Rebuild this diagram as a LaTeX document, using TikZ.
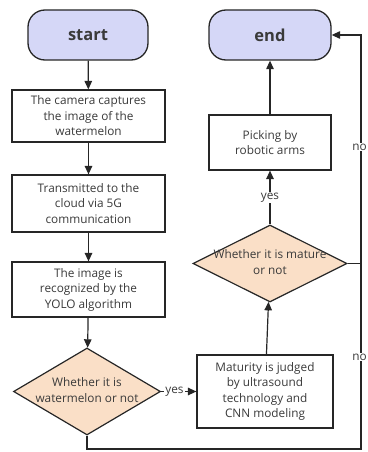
\documentclass[tikz,border=0pt]{standalone}
\usepackage{fontspec}
\setmainfont{Open Sans}
\usetikzlibrary{shapes.geometric,arrows.meta}
\definecolor{lav}{HTML}{D5D7F7}
\definecolor{peach}{HTML}{FADFC7}
\definecolor{ink}{HTML}{262626}
\definecolor{txt}{HTML}{3A3A3A}
\begin{document}
\begin{tikzpicture}[x=1pt,y=-1pt,
  every node/.style={font=\fontsize{11.8}{15.5}\selectfont, text=txt},
  term/.style={draw=ink, line width=1.3pt, fill=lav, rounded corners=17pt, minimum width=120pt, minimum height=50pt, font=\fontsize{16.5}{19}\selectfont\bfseries},
  box/.style={draw=ink, line width=1.2pt, fill=white, align=center, inner sep=2pt},
  dia/.style={draw=ink, line width=1.2pt, fill=peach, diamond, inner sep=0pt},
  conn/.style={draw=ink, line width=1.2pt},
  arr/.style={conn, -{Triangle[length=8.5pt,width=7.5pt]}},
  lbl/.style={fill=white, inner sep=1pt}
]
\useasboundingbox (0,0) rectangle (367,452);
\node[term] (start) at (88,35) {start};
\node[term, minimum width=122pt] (end) at (270,35) {end};
\node[box, minimum width=153pt, minimum height=52pt] (b1) at (88.5,116) {The camera captures\\the image of the\\watermelon};
\node[box, minimum width=153pt, minimum height=57pt] (b2) at (88.5,203.5) {Transmitted to the\\cloud via 5G\\communication};
\node[box, minimum width=153pt, minimum height=55pt] (b3) at (88.5,289.5) {The image is\\recognized by the\\YOLO algorithm};
\node[dia, minimum width=147pt, minimum height=87pt] (d1) at (87,391.5) {};
\node at (d1) {\begin{tabular}{@{}c@{}}Whether it is\\watermelon or not\end{tabular}};
\node[box, minimum width=136pt, minimum height=73pt] (b4) at (265,391.5) {Maturity is judged\\by ultrasound\\technology and\\CNN modeling};
\node[dia, minimum width=154pt, minimum height=77pt] (d2) at (270,263.5) {};
\node at (d2) {\begin{tabular}{@{}c@{}}Whether it is mature\\or not\end{tabular}};
\node[box, minimum width=122pt, minimum height=55pt] (pick) at (270,142.5) {Picking by\\robotic arms};
\coordinate (c1) at (87,449);
\coordinate (c2) at (361,449);
\draw[arr] (start) -- (b1);
\draw[arr] (b1) -- (b2);
\draw[arr] (b2) -- (b3);
\draw[arr] (b3) -- (d1);
\draw[arr] (d1.east) -- node[lbl, pos=0.38] (y1) {yes} (b4.west);
\draw[arr] (b4) -- (d2);
\draw[arr] (d2) -- node[lbl] (y2) {yes} (pick);
\draw[arr] (pick) -- (end);
\draw[conn] (d2.east) -- (c2 |- d2.east);
\draw[arr] (d1.south) -- (c1) -- (c2) -- (c2 |- end.east) -- (end.east);
\node[lbl, inner sep=0.5pt] (n1) at (359.5,147) {no};
\node[lbl, inner sep=0.5pt] (n2) at (359.5,357) {no};
\end{tikzpicture}
\end{document}
